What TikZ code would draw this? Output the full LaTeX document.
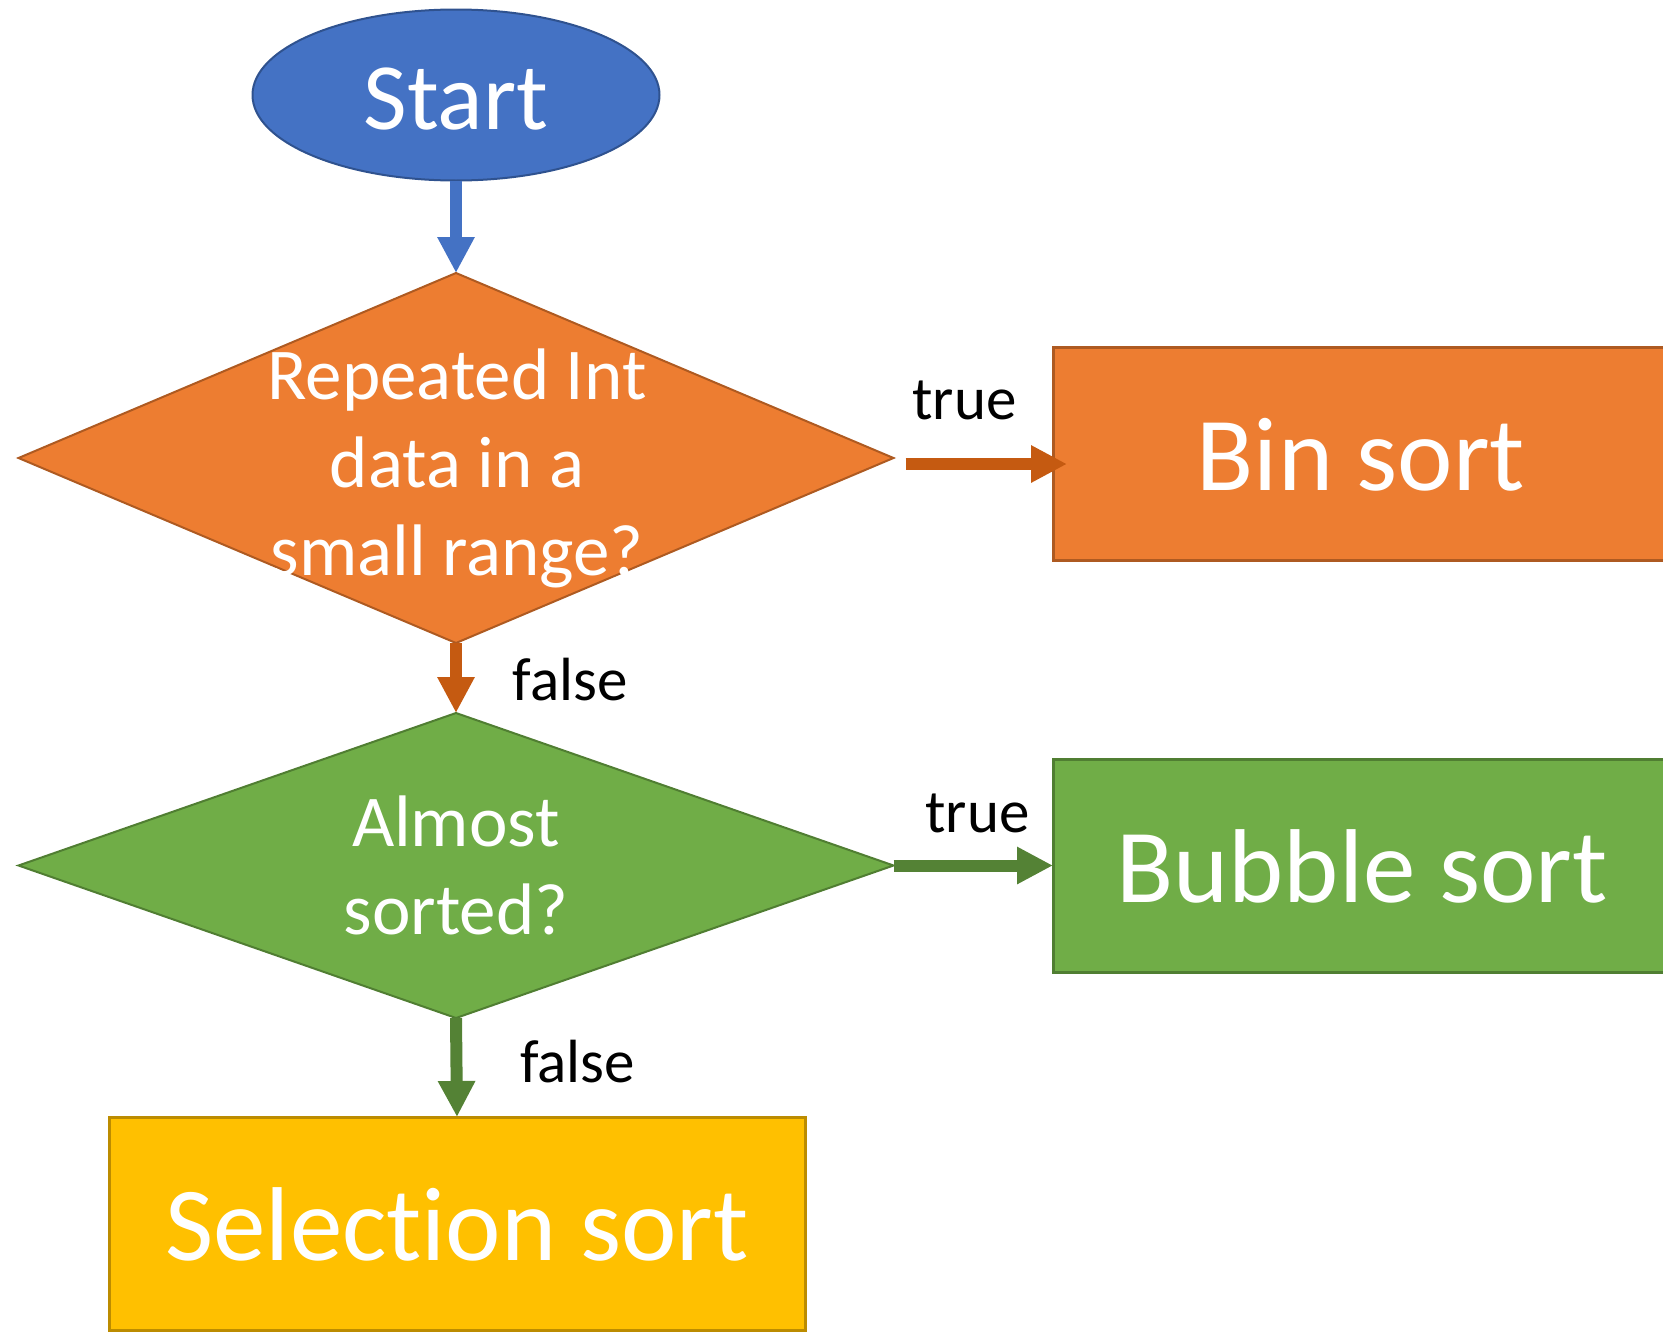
\documentclass[tikz,border=0pt]{standalone}
\usepackage{fontspec}
\setmainfont{Carlito}[Ligatures={NoCommon}]
\usetikzlibrary{shapes.geometric,arrows.meta}
\definecolor{cBlue}{HTML}{4472C4}
\definecolor{cBlueD}{HTML}{2F528F}
\definecolor{cOr}{HTML}{ED7D31}
\definecolor{cOrD}{HTML}{AE5A21}
\definecolor{cOrA}{HTML}{C55A11}
\definecolor{cGr}{HTML}{70AD47}
\definecolor{cGrD}{HTML}{507E32}
\definecolor{cGrA}{HTML}{548235}
\definecolor{cYe}{HTML}{FFC000}
\definecolor{cYeD}{HTML}{BC8C00}
\tikzset{
  big/.style={font=\fontsize{105}{126}\selectfont, text=white, text height=74pt, text depth=0pt},
  mid/.style={font=\fontsize{73}{88}\selectfont, text=white, align=center, inner sep=0pt},
  lbl/.style={font=\fontsize{61}{73}\selectfont, text=black, anchor=base, inner sep=0pt},
  boxnode/.style={rectangle, draw, line width=3pt, inner sep=0pt, outer sep=0pt},
  dianode/.style={diamond, draw, line width=2pt, inner sep=0pt, outer sep=0pt, minimum width=875pt},
  conn/.style={line width=12pt, -{Triangle[width=35pt,length=36pt]}},
}
\begin{document}
\begin{tikzpicture}[x=1pt,y=-1pt]
\useasboundingbox (0,0) rectangle (1663,1333);
% shapes
\node[ellipse, draw=cBlueD, fill=cBlue, line width=2pt, minimum width=407pt, minimum height=171pt, inner sep=0pt, outer sep=0pt, font=\fontsize{95}{114}\selectfont, text=white, text height=69pt, text depth=0pt] (start) at (456,95) {Start};
\node[dianode, draw=cOrD, fill=cOr, minimum height=370pt] (d1) at (456,458) {};
\node[mid] (d1t) at (457,468) {Repeated Int\\data in a\\small range?};
\node[boxnode, draw=cOrD, fill=cOr, minimum width=616pt, minimum height=213pt, big] (bin) at (1361,453.5) {Bin sort};
\node[dianode, draw=cGrD, fill=cGr, minimum height=305pt] (d2) at (456,865.5) {};
\node[mid] (d2t) at (456,865) {Almost\\sorted?};
\node[boxnode, draw=cGrD, fill=cGr, minimum width=618pt, minimum height=213pt, big] (bub) at (1362,865.5) {Bubble sort};
\node[boxnode, draw=cYeD, fill=cYe, minimum width=696pt, minimum height=213pt, big] (sel) at (457,1223.5) {Selection sort};
% connectors
\draw[conn, cBlue] (start.south) -- (d1.north);
\draw[conn, cOrA] ([xshift=12pt,yshift=-6pt]d1.east) -- ([xshift=14pt,yshift=-10.5pt]bin.west);
\draw[conn, cOrA] (d1.south) -- (d2.north);
\draw[conn, cGrA] (d2.east) -- (bub.west);
\draw[conn, cGrA] (d2.south) -- (sel.north);
% labels
\node[lbl] (lt1) at (964.5,419) {true};
\node[lbl] (lf1) at (570,700) {false};
\node[lbl] (lt2) at (977.5,832) {true};
\node[lbl] (lf2) at (577.5,1082) {false};
\end{tikzpicture}
\end{document}
